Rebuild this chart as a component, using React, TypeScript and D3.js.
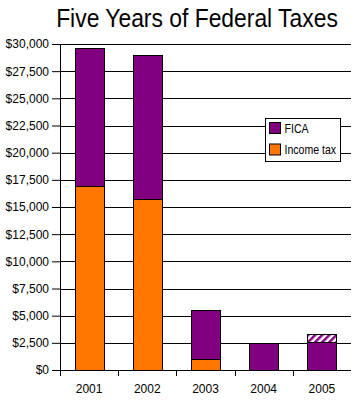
import { useEffect, useRef } from 'react';
import * as d3 from 'd3';

const WIDTH = 359;
const HEIGHT = 400;
const MARGIN = { top: 44, right: 8, bottom: 30, left: 60 };

const years = ['2001', '2002', '2003', '2004', '2005'];
const incomeTax = [16900, 15700, 1000, 0, 0];
const fica = [12750, 13300, 4500, 2500, 2550];
// hatched part on top of 2005 (estimate)
const estimated = [0, 0, 0, 0, 750];
const yTicks = d3.range(0, 30001, 2500);

const PURPLE = '#800080';
const ORANGE = '#ff7700';
const FONT = '"Liberation Sans", Arial, sans-serif';

export default function App() {
  const svgRef = useRef<SVGSVGElement>(null);

  useEffect(() => {
    const svg = d3.select(svgRef.current);
    svg.selectAll('*').remove();

    const w = WIDTH - MARGIN.left - MARGIN.right;
    const h = HEIGHT - MARGIN.top - MARGIN.bottom;

    // hatch pattern for the 2005 estimate
    const pat = svg.append('defs').append('pattern')
      .attr('id', 'hatch')
      .attr('patternUnits', 'userSpaceOnUse')
      .attr('width', 5)
      .attr('height', 5)
      .attr('patternTransform', 'rotate(45)');
    pat.append('rect').attr('width', 5).attr('height', 5).attr('fill', '#fff');
    pat.append('rect').attr('width', 2.5).attr('height', 5).attr('fill', PURPLE);

    // narrow-looking title: squeeze horizontally
    svg.append('g')
      .attr('transform', 'translate(197,27) scale(0.88,1)')
      .append('text')
      .attr('text-anchor', 'middle')
      .style('font-family', FONT)
      .style('font-size', '26px')
      .text('Five Years of Federal Taxes');

    const g = svg.append('g').attr('transform', `translate(${MARGIN.left},${MARGIN.top})`);

    const x = d3.scaleBand().domain(years).range([0, w]).paddingInner(0.5).paddingOuter(0.25);
    const xb = d3.scaleBand().domain(years).range([0, w]);
    const y = d3.scaleLinear().domain([0, 30000]).range([h, 0]);

    // gridlines
    g.selectAll('.grid')
      .data(yTicks.filter((t) => t > 0))
      .join('line')
      .attr('x1', 0)
      .attr('x2', w)
      .attr('y1', (d) => Math.round(y(d)) + 0.5)
      .attr('y2', (d) => Math.round(y(d)) + 0.5)
      .attr('stroke', '#000');

    // y axis
    const ya = g.append('g').call(
      d3.axisLeft(y).tickValues(yTicks).tickSize(8).tickPadding(3)
        .tickFormat((d) => '$' + d3.format(',')(d as number))
    );
    ya.select('.domain').remove();
    ya.selectAll('text').style('font-family', FONT).style('font-size', '12px');
    g.append('line').attr('x1', 0.5).attr('x2', 0.5).attr('y1', 0).attr('y2', h + 6).attr('stroke', '#000');

    // bars
    const stacks = years.map((yr, i) => {
      const a = incomeTax[i];
      const b = a + fica[i];
      const c = b + estimated[i];
      return { yr, parts: [[0, a, ORANGE], [a, b, PURPLE], [b, c, 'url(#hatch)']] as [number, number, string][] };
    });
    stacks.forEach((s) => {
      s.parts.filter((p) => p[1] > p[0]).forEach((p) => {
        g.append('rect')
          .attr('x', Math.round(x(s.yr)!) + 0.5)
          .attr('y', Math.round(y(p[1])) + 0.5)
          .attr('width', Math.round(x.bandwidth()))
          .attr('height', Math.round(y(p[0])) - Math.round(y(p[1])))
          .attr('fill', p[2])
          .attr('stroke', '#000');
      });
    });

    // x axis
    g.append('line').attr('x1', 0).attr('x2', w).attr('y1', h + 0.5).attr('y2', h + 0.5).attr('stroke', '#000');
    g.selectAll('.xtick')
      .data(years.slice(1))
      .join('line')
      .attr('x1', (d) => Math.round(xb(d)!) + 0.5)
      .attr('x2', (d) => Math.round(xb(d)!) + 0.5)
      .attr('y1', h)
      .attr('y2', h + 6)
      .attr('stroke', '#000');
    g.selectAll('.xlab')
      .data(years)
      .join('text')
      .attr('x', (d) => xb(d)! + xb.bandwidth() / 2)
      .attr('y', h + 23)
      .attr('text-anchor', 'middle')
      .style('font-family', FONT)
      .style('font-size', '12px')
      .text((d) => d);

    // legend
    const lg = svg.append('g').attr('transform', 'translate(265.5,118.5)');
    lg.append('rect').attr('width', 75).attr('height', 43).attr('fill', '#fff').attr('stroke', '#000');
    [['FICA', PURPLE], ['Income tax', ORANGE]].forEach(([label, color], i) => {
      lg.append('rect').attr('x', 4).attr('y', 4 + i * 21.5).attr('width', 11).attr('height', 11).attr('fill', color).attr('stroke', '#000');
      lg.append('g')
        .attr('transform', `translate(19,${14 + i * 21.5}) scale(0.88,1)`)
        .append('text')
        .style('font-family', FONT)
        .style('font-size', '12px')
        .text(label);
    });
  }, []);

  return (
    <svg
      ref={svgRef}
      width={WIDTH}
      height={HEIGHT}
      style={{ position: 'absolute', left: 0, top: 0, background: '#fff' }}
    />
  );
}
